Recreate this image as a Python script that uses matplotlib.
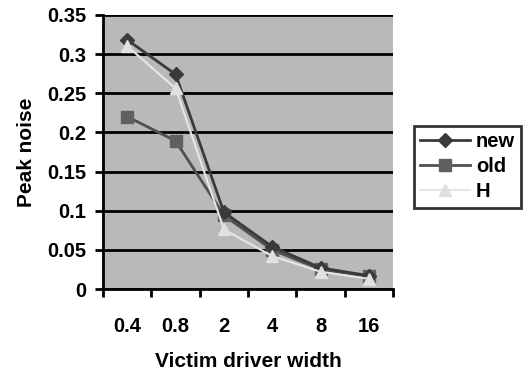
import matplotlib
matplotlib.use("Agg")
import matplotlib.pyplot as plt

plt.rcParams['font.family'] = ['Liberation Sans', 'DejaVu Sans']

widths = ["0.4", "0.8", "2", "4", "8", "16"]
new = [0.318, 0.274, 0.098, 0.054, 0.027, 0.017]
old = [0.220, 0.189, 0.094, 0.050, 0.025, 0.016]
h = [0.310, 0.256, 0.076, 0.042, 0.022, 0.013]

fig = plt.figure(figsize=(5.29, 3.71), dpi=100)
ax = fig.add_axes([0.195, 0.221, 0.548, 0.739])
ax.set_facecolor("#b9b9b9")

x = list(range(len(widths)))
ax.plot(x, new, color="#3a3a3a", lw=2, marker="D", ms=7, mfc="#3a3a3a", label="new", zorder=4)
ax.plot(x, old, color="#505050", lw=2, marker="s", ms=9, mfc="#606060", mec="#606060", label="old", zorder=3)
ax.plot(x, h, color="#e6e6e6", lw=1.5, marker="^", ms=9, mfc="#e0e0e0", mec="#e0e0e0", label="H", zorder=5)

ax.set_xlim(-0.5, 5.5)
ax.set_ylim(0, 0.35)
ax.set_yticks([0, 0.05, 0.1, 0.15, 0.2, 0.25, 0.3, 0.35])
ax.set_yticklabels(["0", "0.05", "0.1", "0.15", "0.2", "0.25", "0.3", "0.35"])
ax.set_xticks(x)
ax.set_xticklabels(widths)
ax.set_xticks([i - 0.5 for i in range(7)], minor=True)
ax.tick_params(axis="x", which="major", length=0, pad=20)
ax.tick_params(axis="x", which="minor", length=6, width=2, direction="out")
ax.tick_params(axis="y", length=6, width=2, direction="out", pad=6)
for lbl in ax.get_xticklabels() + ax.get_yticklabels():
    lbl.set_fontsize(14.5)
    lbl.set_fontweight("bold")

ax.grid(axis="y", color="black", lw=2)
ax.set_axisbelow(True)
for s in ["top", "right"]:
    ax.spines[s].set_visible(False)
ax.spines["left"].set_linewidth(2)
ax.spines["bottom"].set_linewidth(2)

ax.set_ylabel("Peak noise", fontsize=15, fontweight="bold", labelpad=8)
ax.set_xlabel("Victim driver width", fontsize=15, fontweight="bold", labelpad=12)

leg = fig.legend(loc="center left", bbox_to_anchor=(0.782, 0.55), frameon=True,
                 fancybox=False, edgecolor="black", prop={"size": 14.5, "weight": "bold"},
                 handlelength=2.5, handletextpad=0.3, borderpad=0.3, labelspacing=0.3,
                 borderaxespad=0)
leg.get_frame().set_linewidth(2)

fig.savefig("out.png", dpi=100)
